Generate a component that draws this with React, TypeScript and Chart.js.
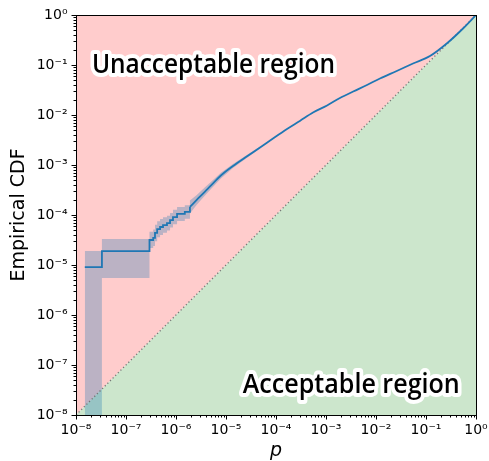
import React, { useEffect, useRef } from 'react';
import { Chart, registerables } from 'chart.js';

Chart.register(...registerables);

// ---- Data ----
// Stepped (low-p) part of the empirical CDF: value stepC[i] holds from stepP[i] to the next p
const stepP = [1.5e-8, 3.3e-8, 2.95e-7, 3.5e-7, 3.8e-7, 4.2e-7, 4.8e-7, 5.5e-7, 6.6e-7, 7.6e-7, 8.7e-7, 1.05e-6, 1.5e-6, 1.9e-6];
const stepC = [9.1e-6, 1.9e-5, 3.16e-5, 3.5e-5, 4.4e-5, 5.2e-5, 5.75e-5, 6.3e-5, 6.9e-5, 7.9e-5, 9.1e-5, 1.05e-4, 1.15e-4, 1.45e-4];
const stepLow = [1e-9, 5.5e-6, 2.2e-5, 2.4e-5, 3.0e-5, 3.6e-5, 4.0e-5, 4.4e-5, 4.9e-5, 5.6e-5, 6.5e-5, 7.6e-5, 8.4e-5, 1.07e-4];
const stepHigh = [1.9e-5, 3.3e-5, 4.6e-5, 5.1e-5, 6.4e-5, 7.5e-5, 8.3e-5, 9.0e-5, 9.7e-5, 1.1e-4, 1.27e-4, 1.45e-4, 1.57e-4, 1.95e-4];
// Dense (high-p) part
const smoothP = [2.6e-6, 3.8e-6, 4.8e-6, 7.9e-6, 1.38e-5, 2.6e-5, 4.8e-5, 8.7e-5, 1.66e-4, 3.0e-4, 5.5e-4, 1.05e-3, 1.9e-3, 3.5e-3, 6.6e-3, 1.2e-2, 2.6e-2, 5.5e-2, 0.12, 0.26, 0.55, 1];
const smoothC = [2.0e-4, 2.95e-4, 3.72e-4, 6.17e-4, 9.55e-4, 1.48e-3, 2.24e-3, 3.39e-3, 5.25e-3, 7.6e-3, 1.12e-2, 1.55e-2, 2.19e-2, 2.95e-2, 3.98e-2, 5.37e-2, 7.59e-2, 0.107, 0.151, 0.269, 0.537, 1];
const smoothLow = [1.6e-4, 2.45e-4, 3.15e-4, 5.4e-4, 8.7e-4, 1.38e-3, 2.14e-3];
const smoothHigh = [2.5e-4, 3.6e-4, 4.4e-4, 7.0e-4, 1.05e-3, 1.58e-3, 2.34e-3];

// Diagonal boundary p = CDF
const diagP = [1e-8, 1];
const diagC = [1e-8, 1];

// Axes
const decadeExps = [-8, -7, -6, -5, -4, -3, -2, -1, 0];
const minorMults = [2, 3, 4, 5, 6, 7, 8, 9];
const tickLabels = ['10⁻⁸', '10⁻⁷', '10⁻⁶', '10⁻⁵', '10⁻⁴', '10⁻³', '10⁻²', '10⁻¹', '10⁰'];

// Region annotations
const regionLabels = ['Unacceptable region', 'Acceptable region'];
const regionLabelP = [5.6e-6, 3.2e-3];
const regionLabelC = [0.07, 2.8e-8];

// ---- helpers ----
function expandSteps(ps: number[], vs: number[]) {
  const out: { x: number; y: number }[] = [];
  for (let i = 0; i < ps.length; i++) {
    out.push({ x: ps[i], y: vs[i] });
    if (i < ps.length - 1) out.push({ x: ps[i + 1], y: vs[i] });
  }
  return out;
}
function zipPts(ps: number[], vs: number[]) {
  return vs.map((v, i) => ({ x: ps[i], y: v }));
}
const isMajor = (v: number) => Math.abs(Math.log10(v) - Math.round(Math.log10(v))) < 1e-9;

const tickVals: number[] = [];
decadeExps.forEach((e) => {
  tickVals.push(Math.pow(10, e));
  if (e < 0) minorMults.forEach((m) => tickVals.push(m * Math.pow(10, e)));
});

const FONT = "'DejaVu Sans', sans-serif";

const axisPlugin = {
  id: 'axisFrame',
  afterDraw(chart: any) {
    const { ctx, chartArea: a, scales } = chart;
    const x = scales.x;
    const y = scales.y;
    ctx.save();
    ctx.strokeStyle = '#000';
    ctx.lineWidth = 1;
    ctx.beginPath();
    x.ticks.forEach((t: any) => {
      const px = Math.round(x.getPixelForValue(t.value)) + 0.5;
      const len = t.major ? 4.5 : 2.5;
      ctx.moveTo(px, a.bottom);
      ctx.lineTo(px, a.bottom + len);
    });
    y.ticks.forEach((t: any) => {
      const py = Math.round(y.getPixelForValue(t.value)) + 0.5;
      const len = t.major ? 4.5 : 2.5;
      ctx.moveTo(a.left - len, py);
      ctx.lineTo(a.left, py);
    });
    ctx.stroke();
    ctx.strokeRect(a.left + 0.5, a.top + 0.5, a.right - a.left, a.bottom - a.top);
    ctx.restore();
  },
};

const textPlugin = {
  id: 'regionText',
  afterDatasetsDraw(chart: any) {
    const { ctx, scales } = chart;
    const widths = [243, 217];
    regionLabels.forEach((t, i) => {
      const px = scales.x.getPixelForValue(regionLabelP[i]);
      const py = scales.y.getPixelForValue(regionLabelC[i]);
      ctx.save();
      ctx.font = "600 27px 'Open Sans', sans-serif";
      const w = ctx.measureText(t).width;
      const sx = widths[i] / w;
      ctx.translate(px, py);
      ctx.scale(sx, 1);
      ctx.textAlign = 'center';
      ctx.textBaseline = 'alphabetic';
      ctx.lineJoin = 'round';
      ctx.lineWidth = 8;
      ctx.strokeStyle = '#fff';
      ctx.strokeText(t, 0, 0);
      ctx.fillStyle = '#000';
      ctx.fillText(t, 0, 0);
      ctx.restore();
    });
  },
};

export default function App() {
  const ref = useRef<HTMLCanvasElement>(null);
  useEffect(() => {
    if (!ref.current) return;
    const last = stepP.length - 1;
    const stepPts = expandSteps(stepP, stepC);
    const smoothPts = zipPts([stepP[last], ...smoothP], [stepC[last], ...smoothC]);
    const upper = [...expandSteps(stepP, stepHigh), ...zipPts(smoothP, smoothHigh)];
    const lower = [...expandSteps(stepP, stepLow), ...zipPts(smoothP, smoothLow)];
    const diag = zipPts(diagP, diagC);

    const chart = new Chart(ref.current, {
      type: 'line',
      data: {
        datasets: [
          { data: diag, borderWidth: 0, pointRadius: 0, fill: 'end', backgroundColor: 'rgb(255,204,204)', order: 10 } as any,
          { data: diag, borderWidth: 0, pointRadius: 0, fill: 'start', backgroundColor: 'rgb(204,230,204)', order: 9 } as any,
          { data: upper, borderWidth: 0, pointRadius: 0, fill: '+1', backgroundColor: 'rgba(31,119,180,0.3)', order: 5 } as any,
          { data: lower, borderWidth: 0, pointRadius: 0, fill: false, order: 4 } as any,
          { data: diag, borderWidth: 1.3, borderColor: 'rgba(110,110,110,0.9)', borderDash: [1.3, 2.4], pointRadius: 0, fill: false, order: 3 } as any,
          { data: stepPts, borderWidth: 1.8, borderColor: '#1f77b4', pointRadius: 0, fill: false, order: 1 } as any,
          { data: smoothPts, borderWidth: 1.8, borderColor: '#1f77b4', pointRadius: 0, fill: false, cubicInterpolationMode: 'monotone', order: 1 } as any,
        ],
      },
      options: {
        animation: false,
        responsive: false,
        events: [],
        layout: { padding: { top: 15, right: 13, bottom: 0, left: 0 } },
        plugins: { legend: { display: false }, tooltip: { enabled: false } },
        scales: {
          x: {
            type: 'logarithmic',
            min: 1e-8,
            max: 1,
            grid: { display: false, drawTicks: false },
            border: { display: false },
            afterBuildTicks: (s: any) => {
              s.ticks = tickVals.map((v) => ({ value: v, major: isMajor(v) }));
            },
            afterFit: (s: any) => {
              s.height = 46;
              s.paddingLeft = 0;
              s.paddingRight = 0;
            },
            ticks: {
              autoSkip: false,
              maxRotation: 0,
              padding: 7,
              color: '#000',
              font: { family: FONT, size: 14 },
              callback: (v: any) => (isMajor(v) ? tickLabels[decadeExps.indexOf(Math.round(Math.log10(v)))] : ''),
            },
            title: {
              display: true,
              text: 'p',
              color: '#000',
              font: { family: FONT, size: 19, style: 'italic', lineHeight: 1 },
              padding: { top: 0, bottom: 0 },
            },
          },
          y: {
            type: 'logarithmic',
            min: 1e-8,
            max: 1,
            grid: { display: false, drawTicks: false },
            border: { display: false },
            afterBuildTicks: (s: any) => {
              s.ticks = tickVals.map((v) => ({ value: v, major: isMajor(v) }));
            },
            afterFit: (s: any) => {
              s.width = 76;
              s.paddingTop = 0;
              s.paddingBottom = 0;
            },
            ticks: {
              autoSkip: false,
              padding: 8.5,
              color: '#000',
              font: { family: FONT, size: 14 },
              callback: (v: any) => (isMajor(v) ? tickLabels[decadeExps.indexOf(Math.round(Math.log10(v)))] : ''),
            },
            title: {
              display: true,
              text: 'Empirical CDF',
              color: '#000',
              font: { family: FONT, size: 19, lineHeight: 1 },
              padding: { top: 9.5, bottom: 0 },
            },
          },
        },
      } as any,
      plugins: [textPlugin, axisPlugin],
    });
    return () => chart.destroy();
  }, []);

  return (
    <div style={{ position: 'absolute', left: 0, top: 0, width: 489, height: 461, background: '#fff' }}>
      <canvas ref={ref} width={489} height={461} style={{ display: 'block' }} />
    </div>
  );
}
